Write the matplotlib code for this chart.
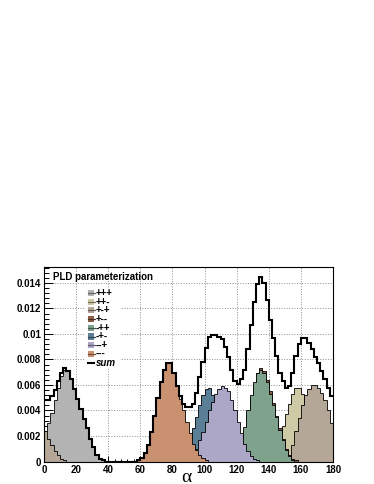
import matplotlib.pyplot as plt
import numpy as np
from matplotlib.patches import Rectangle
from matplotlib.lines import Line2D
from matplotlib.ticker import MultipleLocator, FuncFormatter

plt.rcParams['font.family'] = ['Liberation Sans', 'DejaVu Sans']

# alpha histogram: 2 degree bins on [0, 180], contents wrap around at 180
bin_width = 2
n_bins = 90

labels = ['+++', '++-', '+-+', '+--', '-++', '-+-', '--+', '---']
colors = ['#b3b3b3', '#cfcaa6', '#b5a797', '#8c5c48',
          '#7fa28c', '#5c7f98', '#aca7c6', '#c9916f']

# centre (deg) of the first listed bin for each component
starts = [167, 139, 151, 117, 117, 85, 89, 59]

ppp = [0.0001, 0.0002, 0.0004, 0.0007, 0.0011, 0.0015, 0.0019,
       0.0024, 0.0030, 0.0038, 0.0048, 0.0058, 0.0067, 0.0072, 0.0071,
       0.0065, 0.0057, 0.0049, 0.0041, 0.0033, 0.0026, 0.0018, 0.0011,
       0.0005, 0.0002, 0.0001]
ppm = [0.0001, 0.0003, 0.0007, 0.0012, 0.0018, 0.0028, 0.0037, 0.0045,
       0.0053, 0.0058, 0.0058, 0.0053, 0.0045, 0.0036, 0.0027, 0.0020,
       0.0015, 0.0010, 0.0006, 0.0003, 0.0002]
pmp = [0.0002, 0.0005, 0.0013, 0.0024, 0.0034, 0.0044, 0.0052, 0.0057,
       0.0060, 0.0060, 0.0058, 0.0054, 0.0048, 0.0040, 0.0030,
       0.0024, 0.0018, 0.0013, 0.0008, 0.0005, 0.0002, 0.0001]
pmm = [0.0001, 0.0002, 0.0008, 0.0016, 0.0025, 0.0037, 0.0050, 0.0061,
       0.0069, 0.0073, 0.0071, 0.0064, 0.0055, 0.0046, 0.0036, 0.0026,
       0.0018, 0.0010, 0.0005, 0.0002, 0.0001]
mpp = [0.0001, 0.0003, 0.0009, 0.0018, 0.0027, 0.0040, 0.0052, 0.0062,
       0.0069, 0.0072, 0.0069, 0.0062, 0.0053, 0.0044, 0.0035, 0.0025,
       0.0017, 0.0009, 0.0004, 0.0001]
mpm = [0.0002, 0.0005, 0.0011, 0.0018, 0.0026, 0.0035, 0.0044, 0.0052,
       0.0057, 0.0058, 0.0052, 0.0046, 0.0041, 0.0037, 0.0032, 0.0027,
       0.0022, 0.0018, 0.0013, 0.0009, 0.0006, 0.0003, 0.0001]
mmp = [0.0001, 0.0003, 0.0005, 0.0010, 0.0017, 0.0023, 0.0031, 0.0040,
       0.0047, 0.0053, 0.0057, 0.0059, 0.0058, 0.0055, 0.0048, 0.0040,
       0.0031, 0.0022, 0.0014, 0.0008, 0.0004, 0.0002, 0.0001]
mmm = [0.0001, 0.0003, 0.0007, 0.0013, 0.0023, 0.0036, 0.0050, 0.0062,
       0.0072, 0.0077, 0.0077, 0.0069, 0.0059, 0.0049, 0.0040, 0.0031,
       0.0022, 0.0014, 0.0009, 0.0005, 0.0003, 0.0001]

contents = [ppp, ppm, pmp, pmm, mpp, mpm, mmp, mmm]

edges = np.arange(0, 180 + bin_width, bin_width)
hists = []
for start, vals in zip(starts, contents):
    h = np.zeros(n_bins)
    first = (start - 1) // bin_width
    for i, v in enumerate(vals):
        h[(first + i) % n_bins] = v
    hists.append(h)
total = np.sum(hists, axis=0)

W, H = 374, 484
fig = plt.figure(figsize=(W / 100, H / 100), dpi=100)
ax = fig.add_axes([44 / W, 22.5 / H, 289 / W, 194.5 / H])

for h, c in zip(hists, colors):
    ax.stairs(h, edges, fill=True, facecolor=c, edgecolor='black',
              linewidth=0.6, zorder=2)
ax.stairs(total, edges, baseline=None, color='black', linewidth=1.5, zorder=3)

ax.set_xlim(0, 180)
ax.set_ylim(0, 0.01525)
ax.set_axisbelow(True)
ax.grid(True, which='major', linestyle=':', color='#8c8c8c', linewidth=0.7)
ax.xaxis.set_major_locator(MultipleLocator(20))
ax.xaxis.set_minor_locator(MultipleLocator(4))
ax.yaxis.set_major_locator(MultipleLocator(0.002))
ax.yaxis.set_minor_locator(MultipleLocator(0.0004))
ax.yaxis.set_major_formatter(FuncFormatter(lambda v, p: '0' if abs(v) < 1e-9 else f'{v:g}'))
ax.tick_params(which='both', direction='in', top=False, right=False,
               labelsize=7, width=0.7)
ax.tick_params(axis='x', which='major', length=4.5, pad=2.5)
ax.tick_params(axis='x', which='minor', length=2.3)
ax.tick_params(axis='y', which='major', length=6.5, pad=2)
ax.tick_params(axis='y', which='minor', length=3.3)
for lab in ax.get_xticklabels() + ax.get_yticklabels():
    lab.set_fontweight('bold')
for s in ax.spines.values():
    s.set_linewidth(0.8)


def fx(px):
    return px / W


def fy(py):
    return 1 - py / H


fig.text(fx(53), fy(277), 'PLD parameterization', fontsize=7,
         fontweight='bold', va='center')

# legend box without border, hides the grid
fig.add_artist(Rectangle((fx(85), fy(368)), fx(120) - fx(85), fy(288) - fy(368),
                         transform=fig.transFigure, facecolor='white',
                         edgecolor='none', zorder=4))
step = 8.7
for i, (lab, c) in enumerate(zip(labels, colors)):
    yc = 293 + step * i
    fig.add_artist(Rectangle((fx(88), fy(yc + 3)), fx(94) - fx(88), fy(yc - 3) - fy(yc + 3),
                             transform=fig.transFigure, facecolor=c,
                             edgecolor='none', zorder=5))
    dark = tuple(0.55 * np.array(plt.matplotlib.colors.to_rgb(c)))
    fig.add_artist(Line2D([fx(87.5), fx(94.5)], [fy(yc), fy(yc)],
                          transform=fig.transFigure, color=dark, lw=0.9, zorder=6))
    fig.text(fx(95.5), fy(yc), lab, fontsize=7, fontweight='bold',
             va='center', zorder=6)
yc = 293 + step * 8
fig.add_artist(Line2D([fx(88), fx(94)], [fy(yc), fy(yc)],
                      transform=fig.transFigure, color='black', lw=1.5, zorder=6))
fig.text(fx(96), fy(yc), 'sum', fontsize=7, fontweight='bold',
         fontstyle='italic', va='center', zorder=6)

fig.text(fx(186), fy(477), 'α', fontsize=14, family='Liberation Serif',
         ha='center', va='center')

fig.savefig('out.png', dpi=100)
